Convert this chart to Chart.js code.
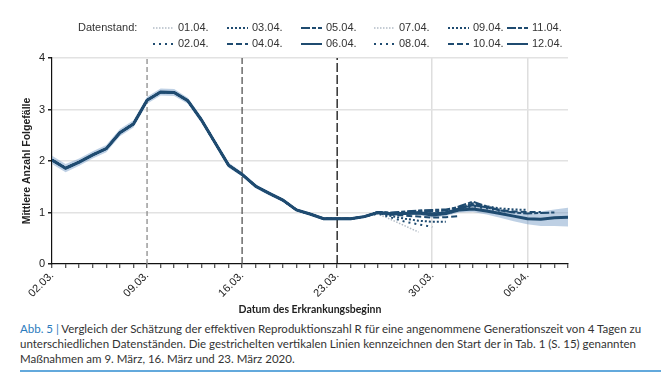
<!DOCTYPE html>
<html>
<head>
<meta charset="utf-8">
<script src="https://cdn.jsdelivr.net/npm/chart.js@4.4.0/dist/chart.umd.min.js"></script>
<style>
  body { margin: 0; background: #fff; width: 669px; height: 384px; overflow: hidden; position: relative; }
  #wrap { position: absolute; left: 0; top: 0; width: 669px; height: 320px; }
  #caption { position: absolute; left: 20px; top: 321px; width: 640px; font-family: Lato, "Open Sans", sans-serif; font-size: 11.5px; line-height: 15px; color: #333; }
  #caption span { color: #2b7bbd; }
  #rule { position: absolute; left: 20px; top: 370px; width: 641px; height: 2px; background: #63a9dc; }
</style>
</head>
<body>
<div id="wrap"><canvas id="chart" width="669" height="320"></canvas></div>
<div id="caption"><span>Abb. 5 |</span> Vergleich der Schätzung der effektiven Reproduktionszahl R für eine angenommene Generationszeit von 4 Tagen zu unterschiedlichen Datenständen. Die gestrichelten vertikalen Linien kennzeichnen den Start der in Tab. 1 (S. 15) genannten Maßnahmen am 9. März, 16. März und 23. März 2020.</div>
<div id="rule"></div>
<script>
// x axis = days since 02.03. (0..38), labels every 7 days
const weekLabels = ['02.03.', '09.03.', '16.03.', '23.03.', '30.03.', '06.04.']
const standLabels = ['01.04.', '02.04.', '03.04.', '04.04.', '05.04.', '06.04.',
                     '07.04.', '08.04.', '09.04.', '10.04.', '11.04.', '12.04.']

// days 0..23, the same for every Datenstand
const sharedR = [2.02, 1.86, 1.98, 2.12, 2.24, 2.55, 2.72, 3.18, 3.34, 3.33, 3.17, 2.80,
                 2.36, 1.92, 1.74, 1.51, 1.37, 1.24, 1.05, 0.97, 0.88, 0.88, 0.88, 0.92]

// days 24.. up to (Datenstand - 3 days)
const tail0104 = [0.97, 0.86, 0.74, 0.62]
const tail0204 = [0.98, 0.90, 0.82, 0.77, 0.72]
const tail0304 = [0.99, 0.93, 0.88, 0.84, 0.82, 0.82]
const tail0404 = [1.00, 0.96, 0.94, 0.92, 0.90, 0.91, 0.93]
const tail0504 = [1.01, 1.00, 1.02, 1.04, 1.05, 1.06, 1.10, 1.15]
const tail0604 = [1.00, 0.98, 0.99, 1.00, 0.98, 1.00, 1.08, 1.14, 1.10]
const tail0704 = [1.00, 0.97, 0.97, 0.97, 0.95, 0.96, 1.04, 1.10, 1.06, 1.00]
const tail0804 = [1.00, 0.97, 0.98, 0.99, 0.96, 0.97, 1.05, 1.12, 1.08, 1.03, 1.00]
const tail0904 = [1.01, 0.98, 0.99, 1.00, 0.98, 1.00, 1.08, 1.16, 1.12, 1.08, 1.06, 1.05]
const tail1004 = [1.00, 0.97, 0.98, 0.99, 0.97, 0.99, 1.07, 1.18, 1.10, 1.05, 1.02, 1.01, 1.01]
const tail1104 = [1.01, 0.99, 1.01, 1.03, 1.02, 1.04, 1.12, 1.21, 1.12, 1.04, 1.00, 0.98, 0.99, 1.00]
const tail1204 = [1.00, 0.97, 0.98, 0.99, 0.95, 0.98, 1.05, 1.07, 1.03, 0.98, 0.93, 0.88, 0.87, 0.90, 0.91]

// confidence band of 12.04., days 0..38
const band1204Hi = [2.10, 1.94, 2.05, 2.19, 2.31, 2.62, 2.79, 3.25, 3.41, 3.40, 3.23, 2.86, 2.41,
                    1.97, 1.78, 1.55, 1.41, 1.27, 1.08, 1.00, 0.91, 0.91, 0.91, 0.95, 1.03, 1.00,
                    1.01, 1.03, 1.00, 1.03, 1.10, 1.13, 1.10, 1.06, 1.03, 1.00, 1.02, 1.06, 1.09]
const band1204Lo = [1.94, 1.78, 1.91, 2.05, 2.17, 2.48, 2.65, 3.11, 3.27, 3.26, 3.11, 2.74, 2.31,
                    1.87, 1.70, 1.47, 1.33, 1.21, 1.02, 0.94, 0.85, 0.85, 0.85, 0.89, 0.97, 0.94,
                    0.95, 0.95, 0.90, 0.93, 1.00, 1.01, 0.96, 0.90, 0.83, 0.77, 0.74, 0.74, 0.73]

// start of measures (days since 02.03.)
const measureDays = [7, 14, 21]

const tails = [tail0104, tail0204, tail0304, tail0404, tail0504, tail0604,
               tail0704, tail0804, tail0904, tail1004, tail1104, tail1204]

const navy = '#1f4b70'
const light = '#b3bcc6'
// line look per Datenstand, repeats after 6
const looks = [
    { color: light, dash: [1.5, 1.5], width: 1.5 },
    { color: navy, dash: [2, 4], width: 2 },
    { color: navy, dash: [2, 2], width: 2 },
    { color: navy, dash: [6, 3], width: 2 },
    { color: navy, dash: [9, 2, 4, 2], width: 2 },
    { color: navy, dash: [], width: 2 }
]

function toPoints(arr) {
    return arr.map((v, i) => ({ x: i, y: v }))
}

let datasets = []
datasets.push({ data: toPoints(band1204Hi), borderWidth: 0, pointRadius: 0, fill: false, order: 50 })
datasets.push({ data: toPoints(band1204Lo), borderWidth: 0, pointRadius: 0, fill: '-1',
                backgroundColor: 'rgba(110,150,195,0.45)', order: 50 })

const measureLooks = [
    { color: '#8c8c8c', dash: [5, 3] },
    { color: '#555555', dash: [7, 3] },
    { color: '#111111', dash: [9, 3] }
]
measureDays.forEach((d, i) => {
    datasets.push({
        data: [{ x: d, y: 0 }, { x: d, y: 4 }],
        borderColor: measureLooks[i].color, borderDash: measureLooks[i].dash,
        borderWidth: 1.3, pointRadius: 0, fill: false, order: 40
    })
})

standLabels.forEach((lab, i) => {
    const look = looks[i % 6]
    const isLast = i === standLabels.length - 1
    datasets.push({
        label: lab,
        data: toPoints(sharedR.concat(tails[i])),
        borderColor: look.color,
        borderDash: look.dash,
        borderWidth: isLast ? 3 : look.width,
        pointRadius: 0,
        fill: false,
        tension: 0,
        order: 12 - i
    })
})

const legendPlugin = {
    id: 'standLegend',
    afterDraw(chart) {
        const ctx = chart.ctx
        ctx.save()
        ctx.font = '11px "Liberation Sans", Arial, sans-serif'
        ctx.fillStyle = '#333'
        ctx.textBaseline = 'middle'
        ctx.textAlign = 'left'
        ctx.fillText('Datenstand:', 78, 28)
        const colX = [153, 227, 301, 374, 448, 507]
        standLabels.forEach((lab, i) => {
            const col = Math.floor(i / 2)
            const y = i % 2 === 0 ? 28 : 44
            const look = looks[i % 6]
            const x0 = colX[col]
            ctx.beginPath()
            ctx.setLineDash(look.dash)
            ctx.strokeStyle = look.color
            ctx.lineWidth = look.width
            ctx.moveTo(x0, y)
            ctx.lineTo(x0 + 21, y)
            ctx.stroke()
            ctx.setLineDash([])
            ctx.fillText(lab, x0 + 25, y)
        })
        ctx.restore()
    }
}

let chart = new Chart(document.getElementById('chart'), {
    type: 'line',
    data: { datasets: datasets },
    plugins: [legendPlugin],
    options: {
        responsive: false,
        animation: false,
        layout: { padding: { top: 58, right: 101, left: 0, bottom: 0 } },
        plugins: { legend: { display: false }, tooltip: { enabled: false } },
        scales: {
            x: {
                type: 'linear',
                min: 0,
                max: 38,
                afterFit: (s) => { s.height = 56 },
                ticks: {
                    stepSize: 1,
                    autoSkip: false,
                    maxRotation: 45,
                    minRotation: 45,
                    padding: 1,
                    color: '#222',
                    font: { size: 11, family: '"Liberation Sans", Arial, sans-serif' },
                    callback: (v) => (v % 7 === 0 ? weekLabels[v / 7] : '')
                },
                grid: {
                    color: (c) => (c.tick && (c.tick.value === 28 || c.tick.value === 35) ? '#dedede' : 'rgba(0,0,0,0)'),
                    lineWidth: 1.5,
                    tickColor: '#222',
                    tickLength: 4,
                    tickWidth: 1
                },
                border: { color: '#111', width: 1.2 },
                title: {
                    display: true,
                    text: 'Datum des Erkrankungsbeginn',
                    color: '#222',
                    font: { size: 10.5, weight: 'bold', family: 'Lato, sans-serif' },
                    padding: { top: 0, bottom: 4 }
                }
            },
            y: {
                min: 0,
                max: 4,
                afterFit: (s) => { s.width = 52 },
                ticks: {
                    stepSize: 1,
                    padding: 3,
                    color: '#222',
                    font: { size: 11, family: '"Liberation Sans", Arial, sans-serif' }
                },
                grid: {
                    color: (c) => (c.tick && c.tick.value === 0 ? 'rgba(0,0,0,0)' : '#e2e2e2'),
                    lineWidth: 1.5,
                    tickColor: '#222',
                    tickLength: 4
                },
                border: { color: '#111', width: 1.2 },
                title: {
                    display: true,
                    text: 'Mittlere Anzahl Folgefälle',
                    color: '#222',
                    font: { size: 10.5, weight: 'bold', family: '"Liberation Sans", Arial, sans-serif' },
                    padding: { top: 21, bottom: 0 }
                }
            }
        }
    }
})
</script>
</body>
</html>
